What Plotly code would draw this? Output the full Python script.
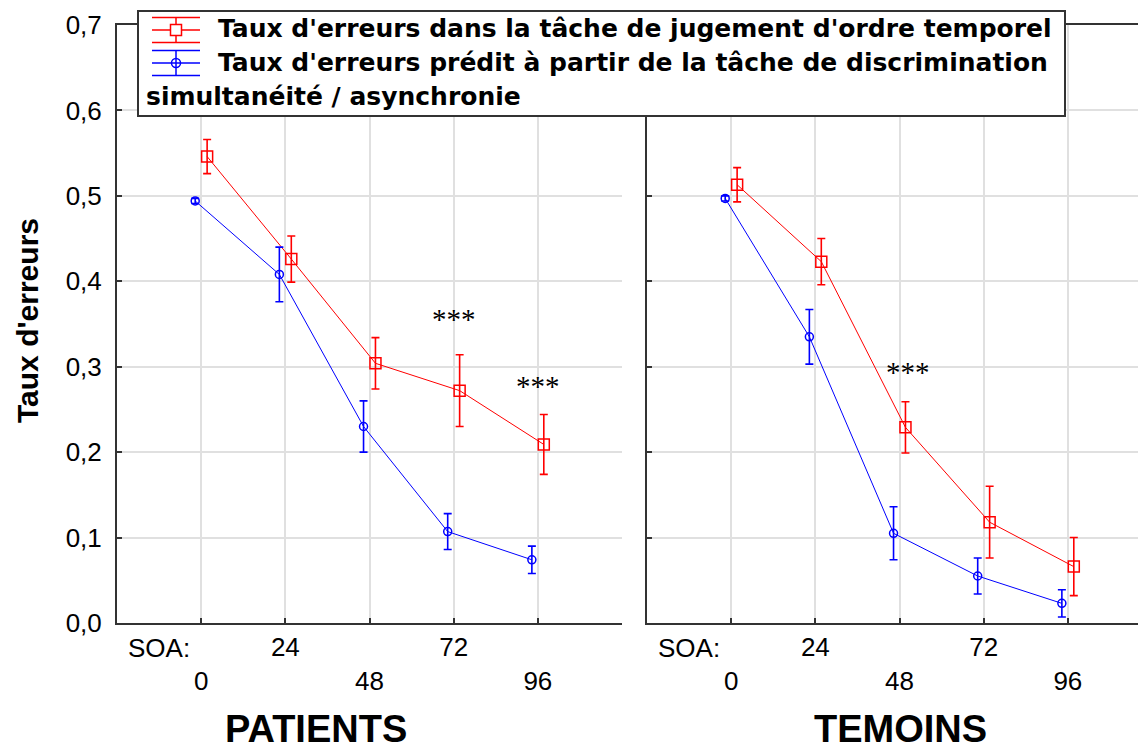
import plotly.graph_objects as go

# SOA (ms)
soa = [0, 24, 48, 72, 96]

# PATIENTS
pat_toj = [0.546, 0.426, 0.304, 0.272, 0.209]
pat_toj_err = [0.020, 0.027, 0.030, 0.042, 0.035]
pat_pred = [0.494, 0.408, 0.230, 0.107, 0.074]
pat_pred_err = [0.003, 0.032, 0.030, 0.021, 0.016]

# TEMOINS
tem_toj = [0.513, 0.423, 0.229, 0.118, 0.066]
tem_toj_err = [0.020, 0.027, 0.030, 0.042, 0.034]
tem_pred = [0.497, 0.335, 0.105, 0.055, 0.023]
tem_pred_err = [0.003, 0.032, 0.031, 0.021, 0.016]

tick_labels = ["<br>0", "24", "<br>48", "72", "<br>96"]

# significance marks: (panel, soa, y)
stars = [("x", 72, 0.356), ("x", 96, 0.278), ("x2", 50.3, 0.294)]

RED = "#ff0000"
BLUE = "#0000ff"
AXC = "#333333"
GRID = "#e0e0e0"
PAGE = 8  # the page body margin shifts the figure by 8 px
W, H = 1146 - PAGE, 749 - PAGE
TOP, BOT = 25, 623
OFF = 1.7  # horizontal offset between the two series

# helpers converting reference screen pixels to paper coordinates
def px(x):
    return (x - PAGE) / W

def py(y):
    return (BOT - y) / (BOT - TOP)

fig = go.Figure()

def add_series(xa, ya, vals, errs, color, symbol, size, sign):
    fig.add_trace(go.Scatter(
        x=[s + sign * OFF for s in soa], y=vals,
        mode="lines+markers",
        line=dict(color=color, width=1),
        marker=dict(symbol=symbol, size=size, color=color, line=dict(color=color, width=1.5)),
        error_y=dict(type="data", array=errs, visible=True, color=color, thickness=1.6, width=4),
        xaxis=xa, yaxis=ya, showlegend=False,
    ))

add_series("x", "y", pat_toj, pat_toj_err, RED, "square-open", 11, 1)
add_series("x", "y", pat_pred, pat_pred_err, BLUE, "circle-open", 8, -1)
add_series("x2", "y2", tem_toj, tem_toj_err, RED, "square-open", 11, 1)
add_series("x2", "y2", tem_pred, tem_pred_err, BLUE, "circle-open", 8, -1)

tickfont = dict(family="Liberation Sans, Arial", size=26, color="black")
xcommon = dict(tickvals=soa, ticktext=tick_labels, showgrid=True, gridcolor=GRID, gridwidth=2,
               showline=True, linecolor=AXC, linewidth=2, mirror=True, ticks="inside",
               ticklen=5, tickcolor=AXC, tickwidth=1.5, zeroline=False, tickfont=tickfont)
ycommon = dict(range=[0, 0.7], dtick=0.1, tickformat=".1f", showgrid=True, gridcolor=GRID,
               gridwidth=2, showline=True, linecolor=AXC, linewidth=2, ticks="inside",
               ticklen=5, tickcolor=AXC, tickwidth=1.5, zeroline=False, tickfont=tickfont)

left_scale = (622 - 117) / 144.0
fig.update_layout(
    width=W, height=H,
    margin=dict(l=0, r=0, t=TOP - PAGE, b=H - (BOT - PAGE)),
    paper_bgcolor="white", plot_bgcolor="white",
    separators=", ",
    xaxis=dict(domain=[px(117), px(622)], range=[-24, 120], anchor="y", **xcommon),
    yaxis=dict(domain=[0, 1], anchor="x", ticklabelstandoff=8, **ycommon),
    xaxis2=dict(domain=[px(647), 1], range=[-24, -24 + (1146 - 647) / left_scale], anchor="y2", **xcommon),
    yaxis2=dict(domain=[0, 1], anchor="x2", showticklabels=False, **ycommon),
    yaxis3=dict(overlaying="y", anchor="x", side="right", range=[0, 0.8], dtick=0.1,
                showgrid=False, showline=True, linecolor=AXC, linewidth=2, ticks="inside",
                ticklen=5, tickcolor=AXC, tickwidth=1.5, showticklabels=False, zeroline=False),
)

ann = []
# SOA: label on each panel
for xa in ["x", "x2"]:
    ann.append(dict(text="SOA:", x=-12, y=py(648), xref=xa, yref="paper", showarrow=False,
                    xanchor="center", yanchor="middle", font=tickfont))
# panel titles
titlefont = dict(family="Liberation Sans, Arial", size=38, color="black")
ann.append(dict(text="<b>PATIENTS</b>", x=px(316), y=py(729), xref="paper", yref="paper",
                showarrow=False, xanchor="center", yanchor="middle", font=titlefont))
ann.append(dict(text="<b>TEMOINS</b>", x=px(900), y=py(729), xref="paper", yref="paper",
                showarrow=False, xanchor="center", yanchor="middle", font=titlefont))
# y title
ann.append(dict(text="<b>Taux d'erreurs</b>", x=px(27), y=py(321), xref="paper", yref="paper",
                showarrow=False, xanchor="center", yanchor="middle", textangle=-90,
                font=dict(family="Liberation Sans, Arial", size=30, color="black")))
# significance stars
for xa, sx, sy in stars:
    ann.append(dict(text="***", x=sx, y=sy, xref=xa, yref="y" if xa == "x" else "y2",
                    showarrow=False, xanchor="center", yanchor="middle",
                    font=dict(family="Liberation Serif, Times New Roman", size=29, color="black")))

# legend (drawn by hand: third line starts at the box edge)
lfont = dict(family="DejaVu Sans", size=25, color="black")
ann.append(dict(text="<b>Taux d'erreurs dans la tâche de jugement d'ordre temporel</b>",
                x=px(216), y=py(29), xref="paper", yref="paper", showarrow=False,
                xanchor="left", yanchor="middle", font=lfont))
ann.append(dict(text="<b>Taux d'erreurs prédit à partir de la tâche de discrimination</b>",
                x=px(216), y=py(63), xref="paper", yref="paper", showarrow=False,
                xanchor="left", yanchor="middle", font=lfont))
ann.append(dict(text="<b>simultanéité / asynchronie</b>",
                x=px(144), y=py(96), xref="paper", yref="paper", showarrow=False,
                xanchor="left", yanchor="middle", font=lfont))

shapes = [dict(type="rect", xref="paper", yref="paper", x0=px(138), x1=px(1065), y0=py(116), y1=py(11),
               fillcolor="white", line=dict(color=AXC, width=2), layer="above")]
for color, yc in [(RED, 30), (BLUE, 63)]:
    for dy in (-12.5, 0, 12.5):
        shapes.append(dict(type="line", xref="paper", yref="paper", x0=px(152), x1=px(200),
                           y0=py(yc + dy), y1=py(yc + dy), line=dict(color=color, width=1.5), layer="above"))
    shapes.append(dict(type="line", xref="paper", yref="paper", x0=px(176), x1=px(176),
                       y0=py(yc - 12.5), y1=py(yc + 12.5), line=dict(color=color, width=1.5), layer="above"))
shapes.append(dict(type="rect", xref="paper", yref="paper", x0=px(170.5), x1=px(181.5), y0=py(35.5), y1=py(24.5),
                   fillcolor="white", line=dict(color=RED, width=1.5), layer="above"))
shapes.append(dict(type="circle", xref="paper", yref="paper", x0=px(171.5), x1=px(180.5), y0=py(67.5), y1=py(58.5),
                   fillcolor="rgba(0,0,0,0)", line=dict(color=BLUE, width=1.5), layer="above"))

fig.update_layout(annotations=ann, shapes=shapes)
fig.write_html("out.html")
